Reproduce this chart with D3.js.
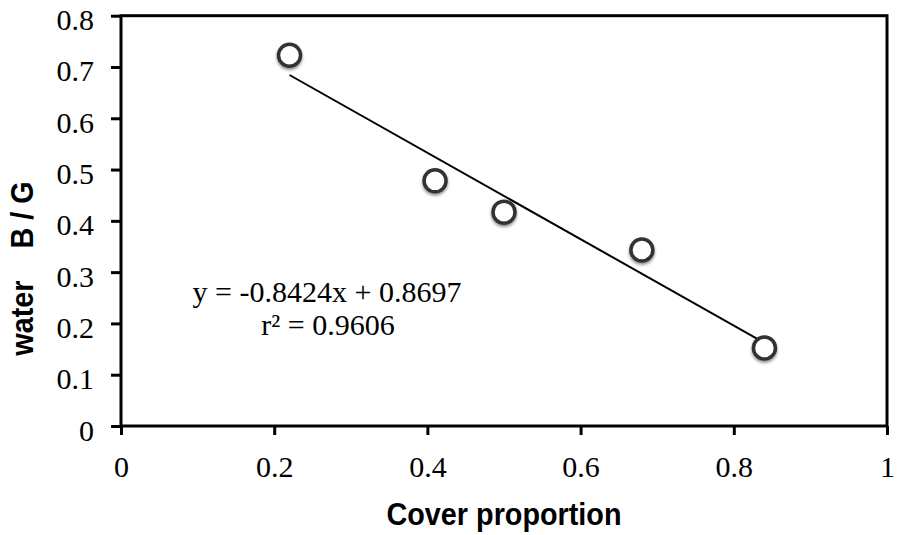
<!DOCTYPE html>
<html>
<head>
<meta charset="utf-8">
<script src="https://cdn.jsdelivr.net/npm/d3@7"></script>
<style>
  html, body { margin: 0; padding: 0; background: #fff; }
  svg { display: block; }
</style>
</head>
<body>
<svg id="chart" width="900" height="535"></svg>
<script>
// Observations: cover proportion vs. water B/G ratio
const coverProportion = [0.22, 0.41, 0.50, 0.68, 0.84];
const waterBG = [0.723, 0.478, 0.417, 0.343, 0.152];

// Linear fit reported on the chart
const fitSlope = -0.8424;
const fitIntercept = 0.8697;
const fitR2 = 0.9606;

const xTicks = [0, 0.2, 0.4, 0.6, 0.8, 1];
const yTicks = [0, 0.1, 0.2, 0.3, 0.4, 0.5, 0.6, 0.7, 0.8];

const xTitle = "Cover proportion";
const yTitle = "water    B / G";

const svg = d3.select("#chart");
const plot = { left: 121, right: 887, top: 15.7, bottom: 426 };

const x = d3.scaleLinear().domain([0, 1]).range([plot.left, plot.right]);
const y = d3.scaleLinear().domain([0, 0.8]).range([plot.bottom, plot.top]);

const serif = "'Liberation Serif', 'Times New Roman', serif";
const sans = "'Liberation Sans', Arial, sans-serif";

// Marker shadow
const defs = svg.append("defs");
const f = defs.append("filter").attr("id", "soft")
  .attr("x", "-50%").attr("y", "-50%").attr("width", "200%").attr("height", "200%");
f.append("feDropShadow").attr("dx", 0).attr("dy", 2).attr("stdDeviation", 1.6)
  .attr("flood-color", "#000").attr("flood-opacity", 0.45);

// Axes
const xAxis = d3.axisBottom(x).tickValues(xTicks).tickSize(9).tickSizeOuter(0)
  .tickFormat(d => d3.format("")(d));
const yAxis = d3.axisLeft(y).tickValues(yTicks).tickSize(10).tickSizeOuter(0)
  .tickFormat(d => d3.format("")(d));

const gx = svg.append("g").attr("transform", `translate(0,${plot.bottom})`).call(xAxis);
const gy = svg.append("g").attr("transform", `translate(${plot.left},0)`).call(yAxis);

[gx, gy].forEach(g => {
  g.attr("font-family", serif).attr("font-size", 30);
  g.select(".domain").remove();
  g.selectAll(".tick line").attr("stroke", "#000").attr("stroke-width", 3);
  g.selectAll(".tick text").attr("fill", "#000")
    .style("font-family", serif).style("font-size", "30px");
});
gx.selectAll(".tick text").attr("y", 51).attr("dy", null);
gy.selectAll(".tick text").attr("x", -27).attr("dy", null).attr("y", 14);

// Plot frame
svg.append("rect")
  .attr("x", plot.left).attr("y", plot.top)
  .attr("width", plot.right - plot.left).attr("height", plot.bottom - plot.top)
  .attr("fill", "none").attr("stroke", "#000").attr("stroke-width", 3);

// Trend line over the observed range
const xExt = d3.extent(coverProportion);
svg.append("line")
  .attr("x1", x(xExt[0])).attr("y1", y(fitSlope * xExt[0] + fitIntercept))
  .attr("x2", x(xExt[1])).attr("y2", y(fitSlope * xExt[1] + fitIntercept))
  .attr("stroke", "#000").attr("stroke-width", 2);

// Data markers
svg.append("g").selectAll("circle")
  .data(coverProportion.map((v, i) => [v, waterBG[i]]))
  .join("circle")
  .attr("cx", d => x(d[0])).attr("cy", d => y(d[1]))
  .attr("r", 11)
  .attr("fill", "#fff").attr("stroke", "#333").attr("stroke-width", 3.5)
  .attr("filter", "url(#soft)");

// Fit annotation
const ann = svg.append("g").style("font-family", serif).style("font-size", "30px")
  .attr("text-anchor", "middle").attr("fill", "#000");
ann.append("text").attr("x", 327).attr("y", 302)
  .text(`y = ${fitSlope}x + ${fitIntercept}`);
ann.append("text").attr("x", 328).attr("y", 335)
  .text(`r\u00B2 = ${fitR2}`);

// Axis titles
svg.append("g").attr("transform", "translate(504,525) scale(1,1.12)")
  .append("text").attr("text-anchor", "middle")
  .style("font-family", sans).style("font-weight", "bold").style("font-size", "28.8px")
  .text(xTitle);

svg.append("g").attr("transform", "translate(33,268.5) rotate(-90) scale(1,1.12)")
  .append("text").attr("text-anchor", "middle")
  .style("font-family", sans).style("font-weight", "bold").style("font-size", "28.8px")
  .style("white-space", "pre").attr("xml:space", "preserve")
  .text(yTitle);
</script>
</body>
</html>
